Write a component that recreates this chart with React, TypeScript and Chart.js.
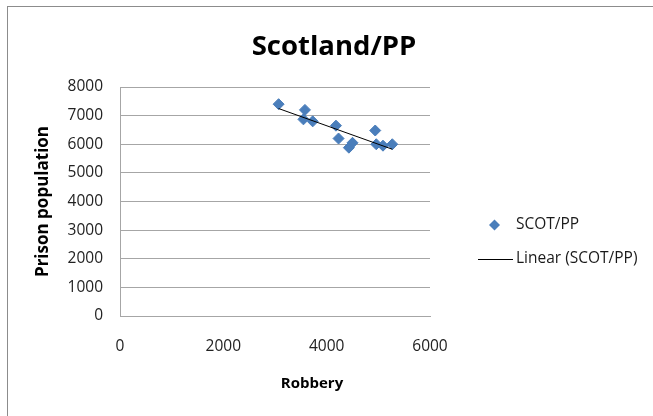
import { useEffect, useRef } from "react";
import { Chart, registerables } from "chart.js";

Chart.register(...registerables);

// ---- data ----
const robbery = [3070, 3580, 3550, 3730, 4180, 4230, 4430, 4500, 4940, 4960, 5090, 5270];
const prisonPopulation = [7400, 7200, 6870, 6800, 6650, 6200, 5880, 6050, 6480, 6000, 5950, 6000];
const xTickValues = [0, 2000, 4000, 6000];
const yTickValues = [0, 1000, 2000, 3000, 4000, 5000, 6000, 7000, 8000];
const chartTitle = "Scotland/PP";
const xAxisTitle = "Robbery";
const yAxisTitle = "Prison population";
const seriesLabel = "SCOT/PP";
const trendLabel = "Linear (SCOT/PP)";

const FONT = "'Open Sans', 'DejaVu Sans', sans-serif";
const MARKER = "#4a7ebb";
const GRID = "#a6a6a6";

function linearFit(xs: number[], ys: number[]) {
  const n = xs.length;
  const mx = xs.reduce((a, b) => a + b, 0) / n;
  const my = ys.reduce((a, b) => a + b, 0) / n;
  let sxy = 0;
  let sxx = 0;
  for (let i = 0; i < n; i++) {
    sxy += (xs[i] - mx) * (ys[i] - my);
    sxx += (xs[i] - mx) * (xs[i] - mx);
  }
  const slope = sxy / sxx;
  const intercept = my - slope * mx;
  return { slope, intercept };
}

const decorPlugin = {
  id: "decor",
  beforeDraw(chart: any) {
    const ctx = chart.ctx;
    ctx.save();
    ctx.fillStyle = "#ffffff";
    ctx.fillRect(0, 0, chart.width, chart.height);
    ctx.strokeStyle = "#8c8c8c";
    ctx.lineWidth = 1;
    ctx.strokeRect(7.5, 6.5, chart.width + 20, chart.height + 20);
    ctx.restore();
  },
  afterDraw(chart: any) {
    const ctx = chart.ctx;
    const area = chart.chartArea;
    ctx.save();
    ctx.fillStyle = "#000000";
    ctx.textBaseline = "middle";

    // main title
    ctx.font = `bold 27.5px ${FONT}`;
    ctx.textAlign = "center";
    ctx.fillText(chartTitle, 334, 47);

    // x axis title
    ctx.font = `bold 15px ${FONT}`;
    ctx.fillText(xAxisTitle, 312, 384);

    // y axis title
    ctx.font = `bold 17px ${FONT}`;
    ctx.save();
    ctx.translate(43, (area.top + area.bottom) / 2);
    ctx.rotate(-Math.PI / 2);
    ctx.fillText(yAxisTitle, 0, 0);
    ctx.restore();

    // legend
    ctx.font = `15.5px ${FONT}`;
    ctx.textAlign = "left";
    const r = 5.5;
    const cx = 494.5;
    const cy = 225;
    ctx.beginPath();
    ctx.moveTo(cx - r, cy);
    ctx.lineTo(cx, cy - r);
    ctx.lineTo(cx + r, cy);
    ctx.lineTo(cx, cy + r);
    ctx.closePath();
    ctx.fillStyle = MARKER;
    ctx.fill();
    ctx.fillStyle = "#1a1a1a";
    ctx.fillText(seriesLabel, 516, cy);

    ctx.beginPath();
    ctx.strokeStyle = "#000000";
    ctx.lineWidth = 1;
    ctx.moveTo(478, 259.5);
    ctx.lineTo(513, 259.5);
    ctx.stroke();
    ctx.fillText(trendLabel, 516, 259);
    ctx.restore();
  },
};

export default function App() {
  const ref = useRef<HTMLCanvasElement | null>(null);

  useEffect(() => {
    if (!ref.current) return;
    const fit = linearFit(robbery, prisonPopulation);
    const xMin = Math.min(...robbery);
    const xMax = Math.max(...robbery);
    const trend = [
      { x: xMin, y: fit.slope * xMin + fit.intercept },
      { x: xMax, y: fit.slope * xMax + fit.intercept },
    ];
    const points = robbery.map((x, i) => ({ x, y: prisonPopulation[i] }));

    const chart = new Chart(ref.current, {
      type: "scatter",
      data: {
        datasets: [
          {
            label: trendLabel,
            data: trend,
            type: "line",
            showLine: true,
            borderColor: "#000000",
            borderWidth: 1,
            pointRadius: 0,
            fill: false,
            order: 0,
          } as any,
          {
            label: seriesLabel,
            data: points,
            pointStyle: "rectRot",
            pointRadius: 5.5,
            pointBackgroundColor: MARKER,
            pointBorderColor: MARKER,
            pointBorderWidth: 1,
            order: 1,
          },
        ],
      },
      options: {
        responsive: false,
        animation: false,
        devicePixelRatio: 1,
        layout: { padding: { top: 87, left: 0, right: 223, bottom: 0 } },
        plugins: {
          legend: { display: false },
          title: { display: false },
          tooltip: { enabled: false },
        },
        scales: {
          x: {
            type: "linear",
            min: 0,
            max: 6000,
            afterBuildTicks: (s: any) => {
              s.ticks = xTickValues.map((v) => ({ value: v }));
            },
            afterFit: (s: any) => {
              s.height = 100;
            },
            grid: { display: false, drawTicks: false },
            border: { display: true, color: GRID, width: 1 },
            ticks: {
              padding: 21,
              color: "#222222",
              font: { family: FONT, size: 15.5 },
              maxRotation: 0,
              callback: (v: any) => String(v),
            },
          },
          y: {
            type: "linear",
            min: 0,
            max: 8000,
            afterBuildTicks: (s: any) => {
              s.ticks = yTickValues.map((v) => ({ value: v }));
            },
            afterFit: (s: any) => {
              s.width = 120;
            },
            grid: { display: true, color: GRID, lineWidth: 1, drawTicks: false },
            border: { display: true, color: GRID, width: 1 },
            ticks: {
              padding: 17,
              color: "#222222",
              font: { family: FONT, size: 15.5 },
              callback: (v: any) => String(v),
            },
          },
        },
      },
      plugins: [decorPlugin],
    });
    return () => chart.destroy();
  }, []);

  return (
    <div style={{ position: "absolute", left: 0, top: 0, width: 653, height: 416 }}>
      <canvas ref={ref} width={653} height={416} style={{ display: "block", width: 653, height: 416 }} />
    </div>
  );
}
